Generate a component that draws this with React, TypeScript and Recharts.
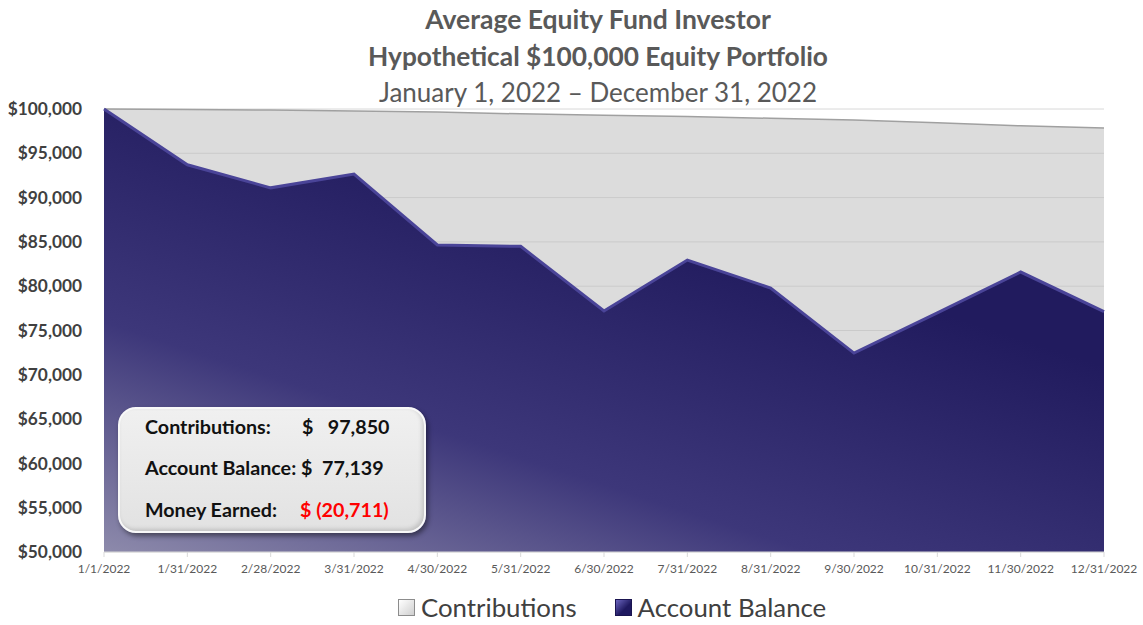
import { AreaChart, Area, XAxis, YAxis, CartesianGrid } from 'recharts';

const dates = [
  '1/1/2022', '1/31/2022', '2/28/2022', '3/31/2022', '4/30/2022', '5/31/2022', '6/30/2022',
  '7/31/2022', '8/31/2022', '9/30/2022', '10/31/2022', '11/30/2022', '12/31/2022',
];
const contributions = [100000, 99950, 99880, 99780, 99650, 99450, 99300, 99150, 98950, 98750, 98450, 98100, 97850];
const balance = [100000, 93700, 91100, 92650, 84650, 84500, 77200, 82950, 79800, 72450, 77000, 81600, 77139];
const yTicks = [50000, 55000, 60000, 65000, 70000, 75000, 80000, 85000, 90000, 95000, 100000];

const data = dates.map((d, i) => ({ date: d, contributions: contributions[i], balance: balance[i] }));

const FONT = 'Lato, "Open Sans", sans-serif';
const fmt = (v: number) => '$' + v.toLocaleString('en-US');

export default function App() {
  return (
    <div style={{ position: 'absolute', left: 0, top: 0, width: 1143, height: 625, overflow: 'hidden', background: '#fff', fontFamily: FONT }}>
      <div style={{ position: 'absolute', left: 598, top: 6, transform: 'translateX(-50%)', whiteSpace: 'nowrap', fontSize: 26.5, fontWeight: 700, color: '#595959', lineHeight: 1 }}>
        Average Equity Fund Investor
      </div>
      <div style={{ position: 'absolute', left: 598, top: 43, transform: 'translateX(-50%)', whiteSpace: 'nowrap', fontSize: 26.3, fontWeight: 700, color: '#595959', lineHeight: 1 }}>
        Hypothetical $100,000 Equity Portfolio
      </div>
      <div style={{ position: 'absolute', left: 598, top: 79, transform: 'translateX(-50%)', whiteSpace: 'nowrap', fontSize: 26, fontWeight: 400, color: '#595959', lineHeight: 1 }}>
        January 1, 2022 – December 31, 2022
      </div>

      <AreaChart width={1143} height={625} data={data} margin={{ top: 109, right: 39, bottom: 33, left: 0 }}>
        <defs>
          <linearGradient id="balGrad" x1="0" y1="1" x2="0.55" y2="0.25">
            <stop offset="0%" stopColor="#8d8aab" />
            <stop offset="45%" stopColor="#3d377a" />
            <stop offset="100%" stopColor="#211b5e" />
          </linearGradient>
        </defs>
        <CartesianGrid vertical={false} stroke="#d8d8d8" strokeWidth={1} />
        <XAxis
          dataKey="date"
          height={40}
          axisLine={{ stroke: '#d9d9d9' }}
          tickLine={{ stroke: '#d9d9d9' }}
          tickSize={5}
          tickMargin={7}
          interval={0}
          tick={{ fill: '#595959', fontSize: 12, fontFamily: FONT }}
        />
        <YAxis
          width={104}
          domain={[50000, 100000]}
          ticks={yTicks}
          axisLine={false}
          tickLine={false}
          tickSize={0}
          tickMargin={22}
          tickFormatter={fmt}
          tick={{ fill: '#404040', fontSize: 17.3, fontWeight: 700, fontFamily: FONT }}
        />
        <Area
          type="linear"
          dataKey="contributions"
          stroke="#a0a0a0"
          strokeWidth={1.5}
          fill="#c0c0c0"
          fillOpacity={0.55}
          isAnimationActive={false}
        />
        <Area
          type="linear"
          dataKey="balance"
          stroke="#4a4498"
          strokeWidth={3}
          fill="url(#balGrad)"
          fillOpacity={1}
          isAnimationActive={false}
        />
      </AreaChart>

      <div style={{
        position: 'absolute', left: 118, top: 407, width: 304, height: 122,
        borderRadius: 18, border: '2px solid #f8f8f8',
        background: 'linear-gradient(180deg, #f0f0f0 0%, #e2e2e2 100%)',
        boxShadow: '2px 3px 5px rgba(0,0,0,0.45), inset -2px -2px 4px rgba(0,0,0,0.15)',
        fontSize: 19.7, fontWeight: 700, color: '#111', lineHeight: 1,
      }}>
        <div style={{ position: 'absolute', left: 25, top: 8, whiteSpace: 'nowrap' }}>Contributions:</div>
        <div style={{ position: 'absolute', left: 182, top: 8, whiteSpace: 'nowrap' }}>$&nbsp;&nbsp;&nbsp;97,850</div>
        <div style={{ position: 'absolute', left: 25, top: 49, whiteSpace: 'nowrap' }}>Account Balance: $&nbsp;&nbsp;77,139</div>
        <div style={{ position: 'absolute', left: 25, top: 91, whiteSpace: 'nowrap' }}>Money Earned:</div>
        <div style={{ position: 'absolute', left: 180, top: 91, whiteSpace: 'nowrap', color: '#ff0000' }}>$ (20,711)</div>
      </div>

      <div style={{ position: 'absolute', left: 398, top: 595, display: 'flex', alignItems: 'center', fontSize: 25.8, color: '#404040', lineHeight: 1, whiteSpace: 'nowrap' }}>
        <span style={{ display: 'inline-block', width: 15, height: 15, marginRight: 6, border: '1px solid #8c8c8c', background: 'linear-gradient(135deg, #ffffff, #cfcfcf)' }} />
        <span style={{ display: 'block' }}>Contributions</span>
        <span style={{ display: 'inline-block', width: 15, height: 15, marginLeft: 38, marginRight: 6, border: '1px solid #1a1450', background: 'linear-gradient(135deg, #6c66c0, #1f1960 60%)' }} />
        <span style={{ display: 'block' }}>Account Balance</span>
      </div>
    </div>
  );
}
